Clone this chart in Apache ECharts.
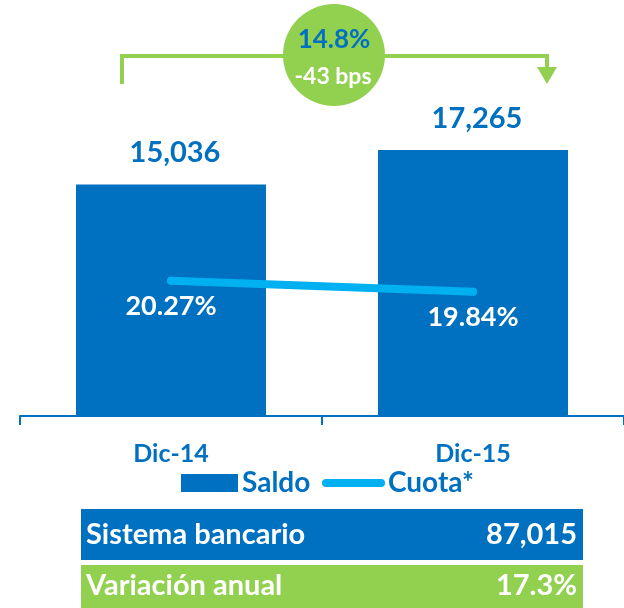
<!DOCTYPE html>
<html>
<head>
<meta charset="utf-8">
<script src="https://cdn.jsdelivr.net/npm/echarts@6/dist/echarts.min.js"></script>
<style>
  html, body { margin: 0; padding: 0; background: #fff; }
  #chart { width: 624px; height: 608px; }
</style>
</head>
<body>
<div id="chart"></div>
<script>
var categories = ['Dic-14', 'Dic-15'];
var saldo = [15036, 17265];
var cuota = [20.27, 19.84];
var shareValue = '14.8%';
var shareChange = '-43 bps';
var tableLabels = ['Sistema bancario', 'Variación anual'];
var tableValues = ['87,015', '17.3%'];

var BLUE = '#0070C0', LIGHT = '#00B0F0', GREEN = '#92D050';
var FONT = 'Lato';

var chart = echarts.init(document.getElementById('chart'));

var option = {
    textStyle: { fontFamily: FONT },
    animation: false,
    grid: { left: 20, right: -8, top: 108, bottom: 192 },
    legend: [{
        data: ['Saldo'],
        left: 181, top: 469, padding: 0,
        icon: 'rect',
        itemWidth: 57, itemHeight: 18,
        textStyle: { color: BLUE, fontSize: 28, fontWeight: 'bold', fontFamily: FONT, padding: [0, 0, 0, -1] }
    }, {
        data: ['Cuota*'],
        left: 322, top: 469, padding: 0,
        icon: 'path://M4,0 L59,0 A4,4 0 0 1 59,8 L4,8 A4,4 0 0 1 4,0 Z',
        itemWidth: 63, itemHeight: 8,
        textStyle: { color: BLUE, fontSize: 28, fontWeight: 'bold', fontFamily: FONT, padding: [0, 0, 0, -2] }
    }],
    xAxis: {
        type: 'category',
        data: categories,
        axisLine: { lineStyle: { color: BLUE, width: 2 } },
        axisTick: { show: true, length: 9, lineStyle: { color: BLUE, width: 2 } },
        axisLabel: { color: BLUE, fontSize: 25, fontWeight: 'bold', margin: 25, fontFamily: FONT }
    },
    yAxis: [
        { type: 'value', min: 0, max: 20000, show: false, splitLine: { show: false } },
        { type: 'value', min: 15, max: 27, show: false, splitLine: { show: false } }
    ],
    series: [{
        name: 'Saldo',
        type: 'bar',
        data: saldo,
        barWidth: 190,
        itemStyle: { color: BLUE },
        label: {
            show: true, position: 'top', distance: 17, offset: [4, 0],
            color: BLUE, fontSize: 29, fontWeight: 'bold', fontFamily: FONT,
            formatter: function (p) { return p.value.toLocaleString('en-US'); }
        }
    }, {
        name: 'Cuota*',
        type: 'line',
        yAxisIndex: 1,
        data: cuota,
        symbol: 'circle',
        symbolSize: 8,
        itemStyle: { color: LIGHT },
        lineStyle: { color: LIGHT, width: 8, cap: 'round' },
        label: {
            show: true, position: 'bottom', distance: 8,
            color: '#fff', fontSize: 27, fontWeight: 'bold', fontFamily: FONT,
            formatter: function (p) { return p.value.toFixed(2) + '%'; }
        }
    }],
    graphic: [
        // bracket arrow
        { type: 'polyline', shape: { points: [[122, 84], [122, 56], [547, 56], [547, 70]] },
          style: { stroke: GREEN, lineWidth: 4, fill: null } },
        { type: 'polygon', shape: { points: [[537, 67], [557, 67], [547, 84]] },
          style: { fill: GREEN } },
        { type: 'circle', shape: { cx: 334, cy: 55, r: 51 }, style: { fill: GREEN } },
        { type: 'text', x: 334, y: 40, style: { text: shareValue, fill: BLUE, font: 'bold 26px ' + FONT, align: 'center', verticalAlign: 'middle' } },
        { type: 'text', x: 333, y: 77, style: { text: shareChange, fill: '#fff', font: 'bold 23px ' + FONT, align: 'center', verticalAlign: 'middle' } },
        // summary table
        { type: 'rect', shape: { x: 81, y: 509, width: 502, height: 51 }, style: { fill: BLUE } },
        { type: 'rect', shape: { x: 81, y: 565, width: 502, height: 43 }, style: { fill: GREEN } },
        { type: 'text', x: 86, y: 535, style: { text: tableLabels[0], fill: '#fff', font: 'bold 29px ' + FONT, verticalAlign: 'middle' } },
        { type: 'text', x: 577, y: 535, style: { text: tableValues[0], fill: '#fff', font: 'bold 29px ' + FONT, align: 'right', verticalAlign: 'middle' } },
        { type: 'text', x: 86, y: 586, style: { text: tableLabels[1], fill: '#fff', font: 'bold 29px ' + FONT, verticalAlign: 'middle' } },
        { type: 'text', x: 577, y: 586, style: { text: tableValues[1], fill: '#fff', font: 'bold 29px ' + FONT, align: 'right', verticalAlign: 'middle' } }
    ]
};

chart.setOption(option);
</script>
</body>
</html>
